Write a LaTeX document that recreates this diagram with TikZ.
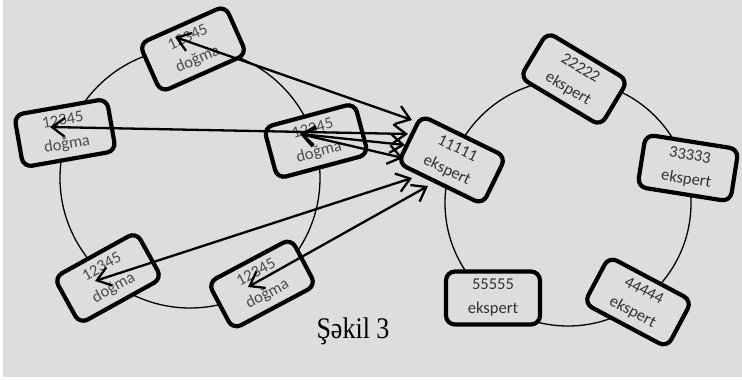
\documentclass[tikz,border=0pt]{standalone}
\usepackage{fontspec}
\usepackage{graphicx}
\setmainfont{Carlito}
\newfontfamily\capfont{Liberation Serif}
\usetikzlibrary{arrows.meta,calc}
\definecolor{bg}{RGB}{221,221,221}
\definecolor{txt}{RGB}{50,50,50}
\definecolor{dtxt}{RGB}{75,75,75}
\begin{document}
\begin{tikzpicture}[x=1pt,y=-1pt,
  box/.style={draw=black, line width=4.2pt, rounded corners=9pt, fill=bg,
    minimum width=94pt, minimum height=53pt, inner sep=0pt, align=center,
    text=txt, font=\fontsize{16.5}{24}\selectfont},
  dbox/.style={box, text=dtxt},
  ring/.style={line width=1.3pt},
  arr/.style={line width=2.3pt,
    {Straight Barb[length=13pt,width=19pt]}-{Straight Barb[length=13pt,width=19pt]}}
]
% background and margins
\fill[white] (0,0) rectangle (742,380);
\fill[bg] (3,0) rectangle (742,377);
\useasboundingbox (0,0) rectangle (742,380);

% rings
\draw[ring] (190,178) circle[radius=130];
\draw[ring] (568,203) circle[radius=123];

% left ring: dogma nodes
\node[dbox, rotate=24] (d1) at (193,49)  {12345\\doğma};
\node[dbox, rotate=10] (d2) at (65,133)  {12345\\doğma};
\node[dbox, rotate=15] (d3) at (316,141) {12345\\doğma};
\node[dbox, rotate=29] (d4) at (108,278) {12345\\doğma};
\node[dbox, rotate=28] (d5) at (262,284) {12345\\doğma};

% right ring: ekspert nodes
\node[box, rotate=-26] (e1) at (452,160) {11111\\ekspert};
\node[box, rotate=-31] (e2) at (574,79)  {22222\\ekspert};
\node[box, rotate=-9]  (e3) at (688,168) {33333\\ekspert};
\node[box, rotate=-28] (e4) at (638,302) {44444\\ekspert};
\node[box, rotate=0]   (e5) at (493,298) {55555\\ekspert};

% arrow ends inside dogma nodes
\coordinate (t1) at ($(d1)+(-18,-12)$);
\coordinate (t2) at ($(d2)+(-15,-6)$);
\coordinate (t3) at ($(d3)+(-16,-7)$);
\coordinate (t4) at ($(d4)+(-13,3)$);
\coordinate (t5) at ($(d5)+(-14,3)$);
% arrow ends at the ekspert 11111 node
\coordinate (s1) at ($(e1)+(-40,-40)$);
\coordinate (s2) at ($(e1)+(-44,-26)$);
\coordinate (s3) at ($(e1)+(-47,-15)$);
\coordinate (s3b) at ($(e1)+(-49,-2)$);
\coordinate (s4) at ($(e1)+(-40,18)$);
\coordinate (s5) at ($(e1)+(-24,26)$);

\draw[arr] (t1) -- (s1);
\draw[arr] (t2) -- (s2);
\draw[arr] (t3) -- (s3);
\draw[arr] (t3) -- (s3b);
\draw[arr] (t4) -- (s4);
\draw[arr] (t5) -- (s5);

% caption
\node[text=black, inner sep=0pt] (cap) at (353,331)
  {\capfont\fontsize{26}{26}\selectfont\scalebox{1}[1.15]{Şəkil 3}};
\end{tikzpicture}
\end{document}
